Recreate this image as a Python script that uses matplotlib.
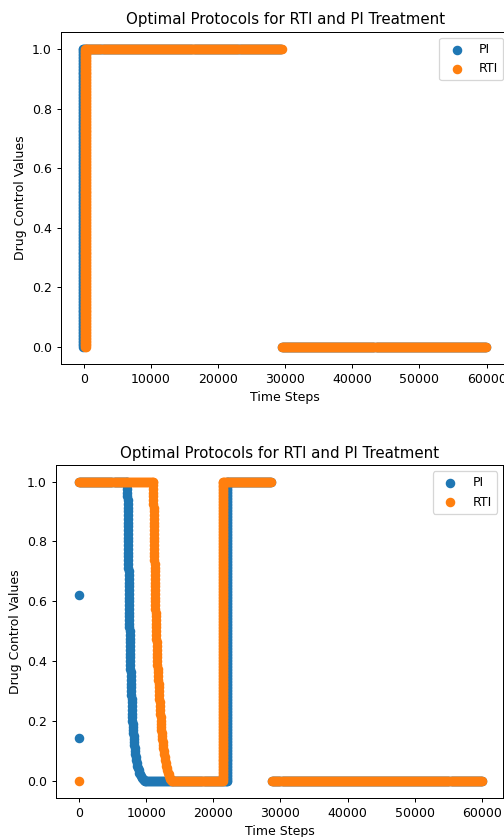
import numpy as np
import matplotlib
matplotlib.use('Agg')
import matplotlib.pyplot as plt

# flat stretches: (first step, last step, control value)
top_pi_runs = [(-150, 29500, 1.0), (29500, 60000, 0.0)]
top_rti_runs = [(400, 29600, 1.0), (29500, 59950, 0.0)]
bot_pi_runs = [(0, 7150, 1.0), (9820, 22000, 0.0), (22000, 28700, 1.0), (28800, 60000, 0.0)]
bot_rti_runs = [(0, 11000, 1.0), (13840, 21400, 0.0), (21400, 28700, 1.0), (28800, 60000, 0.0)]

# near vertical switches: (step, lowest value, highest value)
top_pi_switches = [(-150, 0.0, 1.0)]
top_rti_switches = [(200, 0.0, 1.0), (400, 0.0, 1.0)]
bot_pi_switches = [(22000, 0.0, 1.0)]
bot_rti_switches = [(21400, 0.0, 1.0)]

# the two gradual drops in the lower chart
fall_levels = [1.0, 0.9875, 0.975, 0.9625, 0.95, 0.9375, 0.925, 0.9125, 0.9, 0.8875,
               0.875, 0.8625, 0.85, 0.8375, 0.825, 0.8125, 0.8, 0.7875, 0.775, 0.7625,
               0.75, 0.7375, 0.725, 0.7125, 0.7, 0.6875, 0.675, 0.6625, 0.65, 0.6375,
               0.625, 0.6125, 0.6, 0.5875, 0.575, 0.5625, 0.55, 0.5375, 0.525, 0.5125,
               0.5, 0.4875, 0.475, 0.4625, 0.45, 0.4375, 0.425, 0.4125, 0.4, 0.3875,
               0.375, 0.3625, 0.35, 0.3375, 0.325, 0.3125, 0.3, 0.2875, 0.275, 0.2625,
               0.25, 0.2375, 0.225, 0.2125, 0.2, 0.19, 0.18, 0.17, 0.16, 0.15,
               0.14, 0.13, 0.12, 0.11, 0.1, 0.09, 0.08, 0.07, 0.06, 0.05,
               0.042, 0.035, 0.028, 0.022, 0.016, 0.011, 0.007, 0.004, 0.002, 0.0]
pi_fall_steps = [7150, 7158, 7166, 7174, 7182, 7190, 7198, 7206, 7214, 7222,
                 7230, 7238, 7246, 7254, 7262, 7270, 7278, 7286, 7294, 7302,
                 7310, 7318, 7326, 7334, 7342, 7350, 7358, 7366, 7374, 7382,
                 7390, 7398, 7405, 7416, 7427, 7438, 7450, 7461, 7473, 7485,
                 7497, 7509, 7521, 7533, 7545, 7557, 7569, 7580, 7590, 7608,
                 7626, 7645, 7664, 7684, 7704, 7725, 7746, 7768, 7790, 7813,
                 7836, 7860, 7884, 7908, 7930, 7960, 7990, 8020, 8055, 8090,
                 8130, 8170, 8215, 8260, 8310, 8370, 8430, 8500, 8580, 8670,
                 8760, 8860, 8970, 9080, 9200, 9330, 9460, 9600, 9720, 9820]
rti_fall_steps = [11000, 11010, 11020, 11030, 11040, 11050, 11060, 11070, 11080, 11090,
                  11100, 11110, 11120, 11130, 11140, 11150, 11160, 11170, 11180, 11190,
                  11200, 11210, 11220, 11230, 11240, 11250, 11260, 11270, 11280, 11290,
                  11300, 11310, 11320, 11336, 11352, 11368, 11385, 11403, 11421, 11440,
                  11460, 11480, 11500, 11521, 11542, 11563, 11585, 11607, 11630, 11659,
                  11688, 11718, 11748, 11779, 11810, 11842, 11874, 11907, 11940, 11974,
                  12008, 12042, 12077, 12112, 12145, 12180, 12215, 12255, 12295, 12340,
                  12385, 12435, 12485, 12540, 12600, 12660, 12730, 12800, 12880, 12970,
                  13050, 13140, 13230, 13320, 13410, 13500, 13590, 13680, 13760, 13840]

# odd points sitting at step 0 in the lower chart
bot_pi_start = [0.62, 0.145]
bot_rti_start = [0.0]


def build(runs, switches, fall_steps=None, start_vals=()):
    ts, us = [], []
    for t0, t1, u in runs:
        t = np.arange(t0, t1 + 1, 150)
        ts.append(t)
        us.append(np.full(len(t), u))
    for t, lo, hi in switches:
        u = np.arange(lo, hi + 0.001, 0.005)
        ts.append(np.full(len(u), t))
        us.append(u)
    if fall_steps is not None:
        ts.append(np.array(fall_steps))
        us.append(np.array(fall_levels))
    if len(start_vals):
        ts.append(np.zeros(len(start_vals)))
        us.append(np.array(start_vals))
    return np.concatenate(ts), np.concatenate(us)


fig = plt.figure(figsize=(505 / 90, 837 / 90), dpi=90)
ax1 = fig.add_axes([0.1202, 0.5648, 0.889, 0.3974])
ax2 = fig.add_axes([0.1103, 0.0462, 0.8863, 0.3982])

t, u = build(top_pi_runs, top_pi_switches)
ax1.scatter(t, u, s=44, label='PI')
t, u = build(top_rti_runs, top_rti_switches)
ax1.scatter(t, u, s=44, label='RTI')
ax1.set_xlim(-3424, 63424)
ax1.set_ylim(-0.059, 1.059)

t, u = build(bot_pi_runs, bot_pi_switches, pi_fall_steps, bot_pi_start)
ax2.scatter(t, u, s=44, label='PI')
t, u = build(bot_rti_runs, bot_rti_switches, rti_fall_steps, bot_rti_start)
ax2.scatter(t, u, s=44, label='RTI')
ax2.set_xlim(-3519, 63220)
ax2.set_ylim(-0.058, 1.055)

for ax in (ax1, ax2):
    ax.set_title('Optimal Protocols for RTI and PI Treatment')
    ax.set_xlabel('Time Steps')
    ax.set_ylabel('Drug Control Values')
    ax.legend(loc='upper right')

fig.savefig('out.png', dpi=90)
